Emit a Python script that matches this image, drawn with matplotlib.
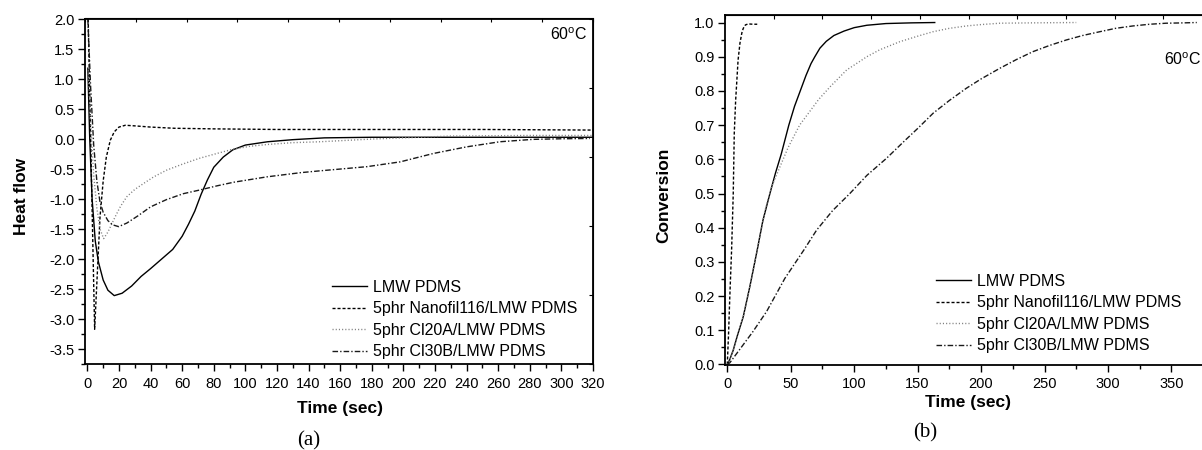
import numpy as np
import matplotlib
matplotlib.use('Agg')
import matplotlib.pyplot as plt
from matplotlib.ticker import MultipleLocator

plt.rcParams['font.family'] = ['Liberation Sans', 'DejaVu Sans']
plt.rcParams['mathtext.fontset'] = 'custom'
plt.rcParams['mathtext.rm'] = 'Liberation Sans'
plt.rcParams['axes.unicode_minus'] = False

labels = ['LMW PDMS', '5phr Nanofil116/LMW PDMS', '5phr Cl20A/LMW PDMS', '5phr Cl30B/LMW PDMS']

# (a) heat flow curves at 60 C
t_hf_lmw = [0.3, 1.5, 3, 5, 7, 10, 13, 17, 22, 28, 34, 40, 47, 54, 60, 64, 68, 72, 76, 80,
            86, 92, 100, 114, 130, 150, 180, 220, 260, 320]
hf_lmw = [1.18, 0.0, -1.0, -1.7, -2.05, -2.35, -2.52, -2.61, -2.57, -2.45, -2.29, -2.16, -2.0, -1.84,
          -1.62, -1.42, -1.2, -0.92, -0.68, -0.47, -0.3, -0.18, -0.1, -0.045, -0.01, 0.02, 0.03,
          0.03, 0.03, 0.03]

t_hf_nano = [0.5, 2, 3.5, 4.6, 6, 8, 10, 12, 14.5, 17, 20, 24, 30, 40, 55, 80, 120, 180, 250, 320]
hf_nano = [2.0, 0.1, -1.8, -3.17, -2.4, -1.3, -0.7, -0.3, -0.02, 0.12, 0.2, 0.23, 0.22, 0.2, 0.18,
           0.17, 0.16, 0.16, 0.16, 0.15]

t_hf_20a = [0.5, 2, 4, 6, 8, 10.3, 13, 17.7, 21, 25, 30, 35.6, 42, 50, 60, 71, 82, 92, 103, 114,
            130, 147, 180, 230, 280, 320]
hf_20a = [1.2, 0.3, -0.6, -1.15, -1.5, -1.66, -1.55, -1.29, -1.12, -0.96, -0.84, -0.74, -0.63,
          -0.52, -0.42, -0.32, -0.24, -0.17, -0.12, -0.09, -0.06, -0.045, 0.0, 0.05, 0.06, 0.06]

t_hf_30b = [0.3, 2, 4, 6, 8, 10, 13, 16, 19.8, 25, 32, 40, 50, 60.8, 71, 82, 92.5, 113.6, 135, 147,
            160, 177, 198, 219, 240, 261, 282, 300, 318]
hf_30b = [2.0, 0.9, -0.1, -0.7, -1.05, -1.22, -1.36, -1.43, -1.46, -1.4, -1.28, -1.13, -1.01, -0.91,
          -0.85, -0.78, -0.72, -0.63, -0.56, -0.53, -0.5, -0.46, -0.38, -0.24, -0.13, -0.045, -0.005,
          0.005, 0.01]

# (b) conversion curves at 60 C
t_cv_lmw = [0, 2, 4.7, 8, 12.6, 17.9, 23.6, 28, 33.6, 38, 42.5, 48.5, 53, 57.5, 62, 66, 69, 73, 78,
            84, 92, 100, 110, 125, 145, 163.5]
cv_lmw = [0, 0.015, 0.042, 0.085, 0.14, 0.23, 0.335, 0.42, 0.5, 0.56, 0.615, 0.7, 0.755, 0.8, 0.845,
          0.88, 0.9, 0.925, 0.945, 0.962, 0.975, 0.985, 0.992, 0.997, 0.999, 1.0]

t_cv_nano = [0, 1, 2, 3.4, 4.7, 5.5, 6.6, 7.4, 8.5, 10, 11.5, 12.6, 14.3, 16.5, 20, 23.6]
cv_nano = [0, 0.09, 0.2, 0.335, 0.5, 0.676, 0.773, 0.822, 0.89, 0.94, 0.97, 0.983, 0.993, 0.996,
           0.995, 0.995]

t_cv_20a = [0, 2, 4.7, 8, 12.6, 17.9, 23.6, 29.7, 35, 41.5, 48, 57, 65, 72, 81, 94, 110, 120, 136,
            150, 162, 175, 188.5, 200, 215, 240, 275]
cv_20a = [0, 0.015, 0.042, 0.085, 0.14, 0.23, 0.335, 0.45, 0.52, 0.578, 0.635, 0.7, 0.74, 0.775,
          0.812, 0.861, 0.9, 0.92, 0.944, 0.96, 0.973, 0.983, 0.99, 0.994, 0.998, 0.999, 1.0]

t_cv_30b = [0, 2, 10, 20, 31, 45.4, 60.4, 70.4, 83, 96.6, 110, 125.5, 140, 150, 162.3, 175, 188.5,
            200, 214.7, 228, 241, 254, 267.2, 280, 293.4, 306, 319.7, 333, 346, 360, 370]
cv_30b = [0, 0.005, 0.045, 0.095, 0.155, 0.252, 0.335, 0.393, 0.45, 0.5, 0.553, 0.603, 0.655, 0.69,
          0.735, 0.772, 0.808, 0.835, 0.866, 0.892, 0.915, 0.933, 0.949, 0.962, 0.973, 0.983, 0.99,
          0.995, 0.998, 0.999, 1.0]

styles = [
    dict(color='black', ls='-', lw=1.0),
    dict(color='black', ls=(0, (2.2, 1.4)), lw=1.0),
    dict(color='#808080', ls=(0, (0.8, 1.5)), lw=1.0),
    dict(color='#1a1a1a', ls=(0, (4, 1.5, 1, 1.5)), lw=1.0),
]

W, H = 1202, 450
fig = plt.figure(figsize=(W / 100, H / 100), dpi=100)
ax1 = fig.add_axes([85 / W, 1 - 364 / H, 508 / W, 345.5 / H])
ax2 = fig.add_axes([725 / W, 1 - 365 / H, 487 / W, 350 / H])


def style_axes(ax, xlim, ylim, xmaj, xmin, ymaj, ymin, ny_right):
    ax.set_xlim(*xlim)
    ax.set_ylim(*ylim)
    ax.xaxis.set_major_locator(MultipleLocator(xmaj))
    ax.xaxis.set_minor_locator(MultipleLocator(xmin))
    ax.yaxis.set_major_locator(MultipleLocator(ymaj))
    ax.yaxis.set_minor_locator(MultipleLocator(ymin))
    ax.tick_params(which='major', direction='out', length=5, width=1.0, labelsize=10.5, pad=2.5)
    ax.tick_params(which='minor', direction='out', length=3, width=1.0)
    ax.tick_params(axis='x', which='major', pad=4)
    for s in ax.spines.values():
        s.set_linewidth(1.3)
    # mirror ticks on the opposite sides, evenly spaced over the range
    top = ax.secondary_xaxis('top')
    top.set_xticks(np.linspace(xlim[0], xlim[1], 11))
    top.set_xticklabels([])
    top.tick_params(direction='in', length=3, width=0.8)
    top.xaxis.set_minor_locator(plt.NullLocator())
    if ny_right:
        right = ax.secondary_yaxis('right')
        right.set_yticks(np.linspace(ylim[0], ylim[1], ny_right + 1))
        right.set_yticklabels([])
        right.tick_params(direction='in', length=3, width=0.8)
        right.yaxis.set_minor_locator(plt.NullLocator())


for t, y, st, lab in zip([t_hf_lmw, t_hf_nano, t_hf_20a, t_hf_30b],
                         [hf_lmw, hf_nano, hf_20a, hf_30b], styles, labels):
    ax1.plot(t, y, label=lab, **st)

for t, y, st, lab in zip([t_cv_lmw, t_cv_nano, t_cv_20a, t_cv_30b],
                         [cv_lmw, cv_nano, cv_20a, cv_30b], styles, labels):
    ax2.plot(t, y, label=lab, **st)

style_axes(ax1, (-1.5, 320), (-3.75, 2.01), 20, 10, 0.5, 0.25, 5)
style_axes(ax2, (-1.8, 382), (-0.0015, 1.022), 50, 25, 0.1, 0.05, 0)

leg_kw = dict(loc='upper left', bbox_transform=fig.transFigure, frameon=False, fontsize=11.5,
              handlelength=2.2, handletextpad=0.35, labelspacing=0.4, borderpad=0, borderaxespad=0)
ax1.legend(bbox_to_anchor=(332 / W, 1 - 280 / H), **leg_kw)
ax2.legend(bbox_to_anchor=(936 / W, 1 - 274 / H), **leg_kw)

fig.text(587 / W, 1 - 35 / H, r'60$^{\rm o}$C', ha='right', va='center', fontsize=11.5)
fig.text(1201 / W, 1 - 60 / H, r'60$^{\rm o}$C', ha='right', va='center', fontsize=11.5)

fig.text(21.7 / W, 1 - 196 / H, 'Heat flow', rotation=90, ha='center', va='center',
         fontsize=12.5, fontweight='bold')
fig.text(664 / W, 1 - 195 / H, 'Conversion', rotation=90, ha='center', va='center',
         fontsize=12.5, fontweight='bold')
fig.text(340 / W, 1 - 409 / H, 'Time (sec)', ha='center', va='center', fontsize=12.5,
         fontweight='bold')
fig.text(968 / W, 1 - 403 / H, 'Time (sec)', ha='center', va='center', fontsize=12.5,
         fontweight='bold')
fig.text(309 / W, 1 - 441 / H, '(a)', ha='center', va='center', fontsize=15,
         family='Liberation Serif')
fig.text(925 / W, 1 - 433 / H, '(b)', ha='center', va='center', fontsize=15,
         family='Liberation Serif')

fig.savefig('out.png', dpi=100)
